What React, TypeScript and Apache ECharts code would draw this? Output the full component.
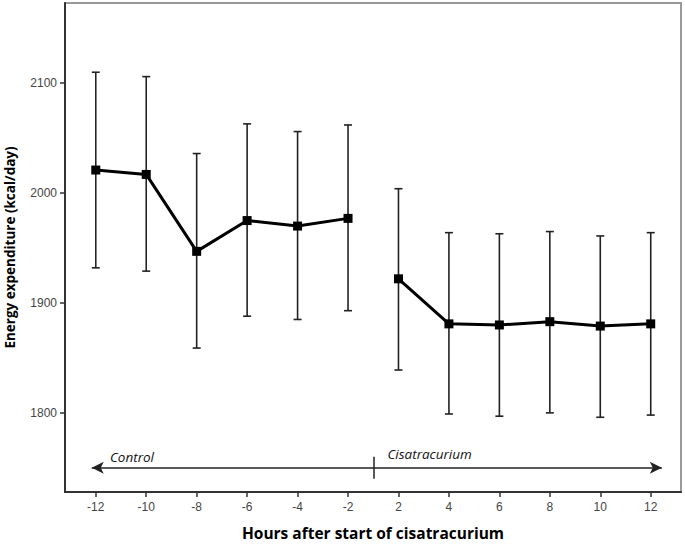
import React, { useEffect, useRef } from "react";
import * as echarts from "echarts";

const hourLabels = ["-12", "-10", "-8", "-6", "-4", "-2", "2", "4", "6", "8", "10", "12"];
const meanValues = [2021, 2017, 1947, 1975, 1970, 1977, 1922, 1881, 1880, 1883, 1879, 1881];
const upperValues = [2110, 2106, 2036, 2063, 2056, 2062, 2004, 1964, 1963, 1965, 1961, 1964];
const lowerValues = [1932, 1929, 1859, 1888, 1885, 1893, 1839, 1799, 1797, 1800, 1796, 1798];
const yTicks = [1800, 1900, 2000, 2100];
const phaseLabels = ["Control", "Cisatracurium"];
const controlCount = 6;

export default function App() {
  const ref = useRef<HTMLDivElement>(null);
  useEffect(() => {
    document.body.style.margin = "0";
    const chart = echarts.init(ref.current!, null, { renderer: "svg" });
    const idx = hourLabels.map((_, i) => i);
    const errData = idx.map((i) => [i, lowerValues[i], upperValues[i]]);
    const lineData = idx.map((i) => [i, meanValues[i]]);
    const tickFont = { fontFamily: "Liberation Sans, Arial, sans-serif", fontSize: 12, color: "#444" };
    const lineStyleCommon = {
      type: "line",
      z: 3,
      symbol: "rect",
      symbolSize: 9,
      itemStyle: { color: "#000" },
      lineStyle: { color: "#000", width: 3 },
    };
    chart.setOption({
      animation: false,
      grid: {
        left: 65,
        top: 3,
        width: 616,
        height: 489,
        show: true,
        borderColor: "#999",
        borderWidth: 2,
        outerBoundsMode: "none",
        containLabel: false,
      },
      xAxis: {
        type: "value",
        min: -0.61,
        max: 11.6,
        name: "Hours after start of cisatracurium",
        nameLocation: "middle",
        nameGap: 32,
        nameTextStyle: { fontFamily: "Open Sans", fontWeight: "bold", fontSize: 15.5, color: "#000", lineHeight: 18 },
        splitLine: { show: false },
        axisLine: { onZero: false, lineStyle: { color: "#333", width: 2 } },
        axisTick: { customValues: idx, length: 5, lineStyle: { color: "#333", width: 1.5 } },
        axisLabel: {
          customValues: idx,
          margin: 9,
          formatter: (v: number) => hourLabels[Math.round(v)] ?? "",
          ...tickFont,
        },
      },
      yAxis: {
        type: "value",
        min: 1728,
        max: 2173,
        name: "Energy expenditure (kcal/day)",
        nameLocation: "middle",
        nameGap: 48,
        nameRotate: 90,
        nameTextStyle: { fontFamily: "Open Sans", fontWeight: "bold", fontSize: 13.5, color: "#000" },
        splitLine: { show: false },
        axisLine: { show: true, onZero: false, lineStyle: { color: "#333", width: 2 } },
        axisTick: { show: true, customValues: yTicks, length: 5, lineStyle: { color: "#333", width: 1.5 } },
        axisLabel: { customValues: yTicks, margin: 8, formatter: (v: number) => String(v), ...tickFont },
      },
      series: [
        {
          type: "custom",
          z: 1,
          data: errData,
          renderItem: (params: any, api: any) => {
            const x = api.value(0);
            const lo = api.coord([x, api.value(1)]);
            const hi = api.coord([x, api.value(2)]);
            const cw = 4;
            const style = { stroke: "#222", lineWidth: 1.6 };
            return {
              type: "group",
              children: [
                { type: "line", shape: { x1: hi[0], y1: hi[1], x2: lo[0], y2: lo[1] }, style },
                { type: "line", shape: { x1: hi[0] - cw, y1: hi[1], x2: hi[0] + cw, y2: hi[1] }, style },
                { type: "line", shape: { x1: lo[0] - cw, y1: lo[1], x2: lo[0] + cw, y2: lo[1] }, style },
              ],
            };
          },
        },
        {
          ...lineStyleCommon,
          data: lineData.slice(0, controlCount),
          markLine: {
            silent: true,
            symbol: ["none", "none"],
            label: { show: false },
            lineStyle: { color: "#222", width: 1.5, type: "solid" },
            data: [[{ coord: [5.5, 1740] }, { coord: [5.5, 1760] }]],
          },
        },
        {
          ...lineStyleCommon,
          data: lineData.slice(controlCount),
        },
        {
          type: "line",
          z: 2,
          data: [],
          markLine: {
            silent: true,
            symbol: ["arrow", "arrow"],
            symbolSize: [9, 12],
            label: { show: false },
            lineStyle: { color: "#222", width: 1.5, type: "solid" },
            data: [[{ coord: [-0.08, 1750] }, { coord: [11.22, 1750] }]],
          },
        },
        {
          type: "custom",
          z: 4,
          data: [
            [0.28, 1760, 0],
            [5.78, 1763, 1],
          ],
          renderItem: (params: any, api: any) => {
            const p = api.coord([api.value(0), api.value(1)]);
            return {
              type: "text",
              x: p[0],
              y: p[1],
              style: {
                text: phaseLabels[api.value(2)],
                fontFamily: "Open Sans",
                fontStyle: "italic",
                fontSize: 13.5,
                fill: "#111",
                textAlign: "left",
                textVerticalAlign: "middle",
              },
            };
          },
        },
      ],
    });
    return () => chart.dispose();
  }, []);
  return <div ref={ref} style={{ width: 685, height: 544 }} />;
}
